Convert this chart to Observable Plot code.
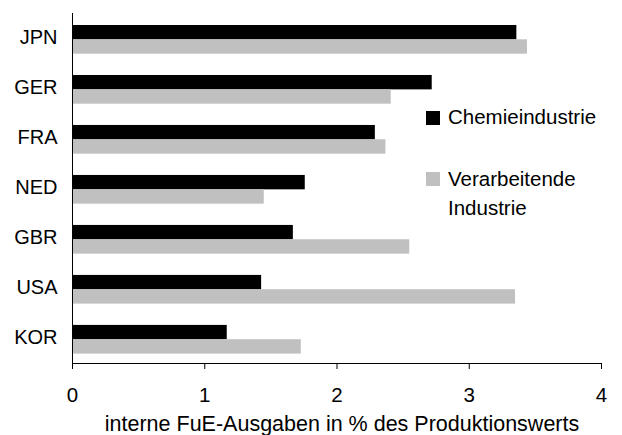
<!DOCTYPE html>
<html><head><meta charset="utf-8">
<script src="https://cdn.jsdelivr.net/npm/d3@7"></script>
<script src="https://cdn.jsdelivr.net/npm/@observablehq/plot@0.6"></script>
<style>
body{margin:0;background:#fff;}
#wrap{position:relative;width:622px;height:435px;font-family:Arial,"Liberation Sans",sans-serif;}
.leg{position:absolute;left:426px;font-size:20.5px;line-height:29px;color:#000;}
.leg .sw{position:absolute;left:0;width:14px;height:14px;}
.leg .tx{position:absolute;left:22px;white-space:nowrap;}
</style></head><body><div id="wrap"></div>
<script>
const countries = ["JPN","GER","FRA","NED","GBR","USA","KOR"];
const chemie = [3.36, 2.72, 2.29, 1.76, 1.67, 1.43, 1.17];
const verarbeitend = [3.44, 2.41, 2.37, 1.45, 2.55, 3.35, 1.73];
const seriesNames = ["Chemieindustrie", "Verarbeitende Industrie"];
const seriesColors = ["#000000", "#c0c0c0"];
const xTicks = [0, 1, 2, 3, 4];
const xLabel = "interne FuE-Ausgaben in % des Produktionswerts";

const rowsA = countries.map((c, i) => ({country: c, series: seriesNames[0], value: chemie[i]}));
const rowsB = countries.map((c, i) => ({country: c, series: seriesNames[1], value: verarbeitend[i]}));

const chart = Plot.plot({
  width: 622, height: 435,
  marginTop: 13, marginBottom: 72, marginLeft: 72, marginRight: 21,
  style: {fontFamily: 'Arial, "Liberation Sans", sans-serif', fontSize: "20px", color: "#000", background: "#fff", overflow: "visible"},
  x: {domain: [0, 4]},
  y: {domain: countries, paddingInner: 0.426, paddingOuter: 0, insetTop: 12, insetBottom: 9.4, round: false},
  color: {domain: seriesNames, range: seriesColors},
  marks: [
    Plot.barX(rowsA, {x: "value", y: "country", fill: "series", insetBottom: 14.3}),
    Plot.barX(rowsB, {x: "value", y: "country", fill: "series", insetTop: 14.3}),
    Plot.frame({anchor: "left", stroke: "#000"}),
    Plot.frame({anchor: "bottom", stroke: "#000"}),
    Plot.axisY({tickSize: 0, tickPadding: 15, dy: -2, label: null}),
    Plot.axisX({ticks: xTicks, tickFormat: d3.format("d"), tickSize: 6, tickPadding: 18, label: null, fontSize: 20.5}),
    Plot.text([xLabel], {text: d => d, frameAnchor: "bottom", lineAnchor: "bottom", dy: 67, dx: 5, fontSize: 21.5})
  ]
});
const wrap = document.getElementById("wrap");
wrap.appendChild(chart);

const legendTops = [102, 164];
const swatchTops = [111, 172];
seriesNames.forEach((name, i) => {
  const d = document.createElement("div");
  d.className = "leg";
  d.style.top = "0px";
  const sw = document.createElement("div");
  sw.className = "sw";
  sw.style.background = seriesColors[i];
  sw.style.top = swatchTops[i] + "px";
  const tx = document.createElement("div");
  tx.className = "tx";
  tx.style.top = legendTops[i] + "px";
  tx.innerHTML = i === 1 ? "Verarbeitende<br>Industrie" : name;
  d.appendChild(sw); d.appendChild(tx);
  wrap.appendChild(d);
});
</script></body></html>
